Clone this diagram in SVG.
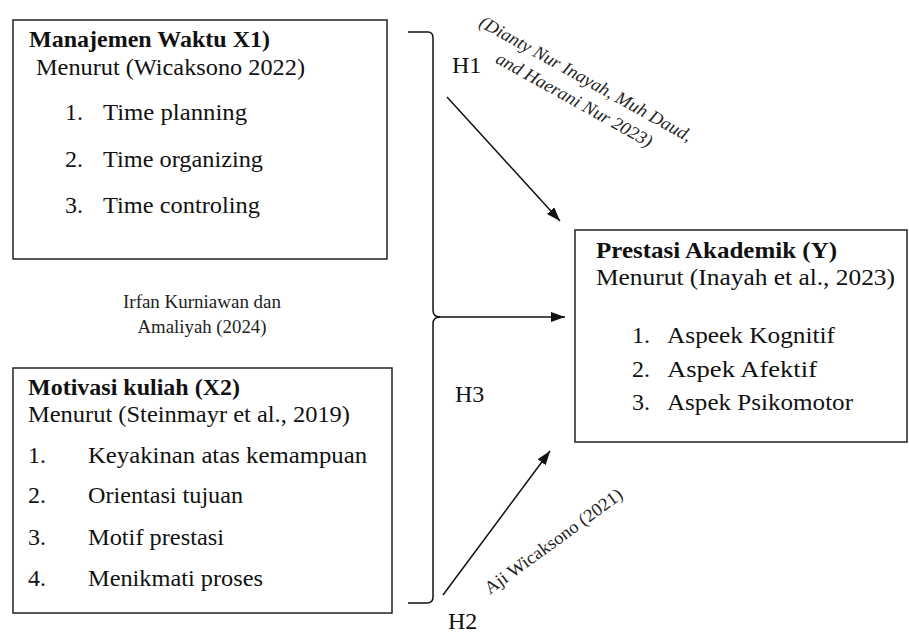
<svg xmlns="http://www.w3.org/2000/svg" width="909" height="635" viewBox="0 0 909 635">
<style>
.box{fill:#fff;stroke:#222;stroke-width:1.5}
.t{font-family:"Liberation Serif","Times New Roman",Times,serif;font-size:24px;fill:#111}
.b{font-weight:bold}
.s{font-family:"Liberation Serif","Times New Roman",Times,serif;font-size:18px;fill:#222}
.i{font-style:italic}
.ln{fill:none;stroke:#111;stroke-width:1.5}
</style>
<defs>
<marker id="ah" markerUnits="userSpaceOnUse" markerWidth="16" markerHeight="12" refX="14" refY="5" orient="auto">
<path d="M0,0 L14,5 L0,10 Z" fill="#111"/>
</marker>
</defs>
<rect width="909" height="635" fill="#fff"/>

<g id="x1">
<rect class="box" x="13" y="20" width="374" height="239"/>
<text class="t b" x="29" y="47" textLength="241" lengthAdjust="spacingAndGlyphs">Manajemen Waktu X1)</text>
<text class="t" x="36" y="75" textLength="269" lengthAdjust="spacingAndGlyphs">Menurut (Wicaksono 2022)</text>
<text class="t" x="65" y="120">1.</text><text class="t" x="103" y="120" textLength="144" lengthAdjust="spacingAndGlyphs">Time planning</text>
<text class="t" x="65" y="167">2.</text><text class="t" x="103" y="167" textLength="160" lengthAdjust="spacingAndGlyphs">Time organizing</text>
<text class="t" x="65" y="213">3.</text><text class="t" x="103" y="213" textLength="157" lengthAdjust="spacingAndGlyphs">Time controling</text>
</g>

<g id="x2">
<rect class="box" x="13" y="368" width="379" height="245"/>
<text class="t b" x="28" y="395" textLength="212" lengthAdjust="spacingAndGlyphs">Motivasi kuliah (X2)</text>
<text class="t" x="28" y="422" textLength="322" lengthAdjust="spacingAndGlyphs">Menurut (Steinmayr et al., 2019)</text>
<text class="t" x="28" y="463">1.</text><text class="t" x="88" y="463" textLength="279" lengthAdjust="spacingAndGlyphs">Keyakinan atas kemampuan</text>
<text class="t" x="28" y="503">2.</text><text class="t" x="88" y="503" textLength="155" lengthAdjust="spacingAndGlyphs">Orientasi tujuan</text>
<text class="t" x="28" y="545">3.</text><text class="t" x="88" y="545" textLength="136" lengthAdjust="spacingAndGlyphs">Motif prestasi</text>
<text class="t" x="28" y="586">4.</text><text class="t" x="88" y="586" textLength="175" lengthAdjust="spacingAndGlyphs">Menikmati proses</text>
</g>

<g id="y">
<rect class="box" x="575" y="230" width="332" height="212"/>
<text class="t b" x="596" y="258" textLength="241" lengthAdjust="spacingAndGlyphs">Prestasi Akademik (Y)</text>
<text class="t" x="596" y="285" textLength="299" lengthAdjust="spacingAndGlyphs">Menurut (Inayah et al., 2023)</text>
<text class="t" x="632" y="343">1.</text><text class="t" x="667" y="343" textLength="168" lengthAdjust="spacingAndGlyphs">Aspeek Kognitif</text>
<text class="t" x="632" y="377">2.</text><text class="t" x="667" y="377" textLength="150" lengthAdjust="spacingAndGlyphs">Aspek Afektif</text>
<text class="t" x="632" y="410">3.</text><text class="t" x="667" y="410" textLength="186" lengthAdjust="spacingAndGlyphs">Aspek Psikomotor</text>
</g>

<g id="connectors">
<path class="ln" d="M408,32 L428,32 Q433,32 433,38 L433,310 Q433,317 440,317 Q433,317 433,324 L433,597 Q433,603 427,603 L408,603"/>
<line class="ln" x1="438" y1="317" x2="565" y2="317" marker-end="url(#ah)"/>
<line class="ln" x1="447" y1="97" x2="560" y2="221" marker-end="url(#ah)"/>
<line class="ln" x1="443" y1="595" x2="550" y2="451" marker-end="url(#ah)"/>
</g>

<g id="labels">
<text class="t" x="448" y="629">H2</text>
<text class="t" x="452" y="73">H1</text>
<text class="t" x="455" y="402">H3</text>
<text class="s" x="202" y="308" text-anchor="middle" textLength="158" lengthAdjust="spacingAndGlyphs">Irfan Kurniawan  dan</text>
<text class="s" x="202" y="333" text-anchor="middle" textLength="129" lengthAdjust="spacingAndGlyphs">Amaliyah (2024)</text>
<g transform="translate(583,84) rotate(29)">
<text class="s i" x="0" y="0" text-anchor="middle" textLength="240" lengthAdjust="spacingAndGlyphs">(Dianty Nur Inayah, Muh Daud,</text>
<text class="s i" x="0" y="24" text-anchor="middle" textLength="176" lengthAdjust="spacingAndGlyphs">and Haerani Nur 2023)</text>
</g>
<g transform="translate(557,546) rotate(-36)">
<text class="s" x="0" y="0" text-anchor="middle" textLength="166" lengthAdjust="spacingAndGlyphs">Aji Wicaksono (2021)</text>
</g>
</g>
</svg>
